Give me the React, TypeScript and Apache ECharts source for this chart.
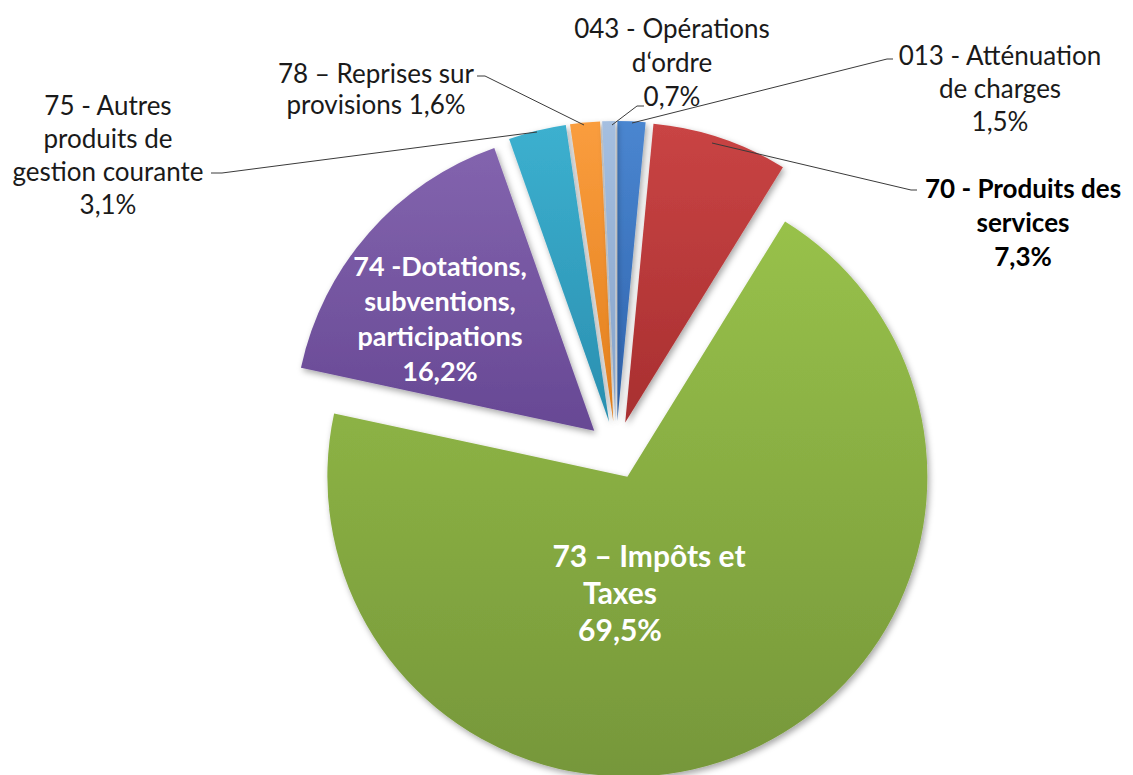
import React, { useEffect, useRef } from "react";
import * as echarts from "echarts";

// ---- data ----
const categories = [
  "013 - Atténuation\nde charges",
  "70 - Produits des\nservices",
  "73 – Impôts et\nTaxes",
  "74 -Dotations,\nsubventions,\nparticipations",
  "75 - Autres\nproduits de\ngestion courante",
  "78 – Reprises sur\nprovisions",
  "043 - Opérations\nd‘ordre",
];
const shares = [1.5, 7.3, 69.5, 16.2, 3.1, 1.6, 0.7];

// ---- styles / layout ----
const colorsTop = ["#4a86d0", "#c94444", "#98c14a", "#8364ae", "#3cb0cf", "#fa9d3e", "#a5bfe0"];
const colorsBottom = ["#2f63ad", "#a82f30", "#76973a", "#674894", "#2a8fb0", "#e27f1c", "#84a2c9"];
// label block centre, colour, weight, size, line height
const labelStyle = [
  { x: 1000, y: 88, fill: "#1a1a1a", weight: "normal", size: 26, lh: 33 },
  { x: 1023, y: 222, fill: "#000000", weight: "bold", size: 26, lh: 34 },
  { x: 620, y: 592, fill: "#ffffff", weight: "bold", size: 30, lh: 37 },
  { x: 440, y: 318, fill: "#ffffff", weight: "bold", size: 27, lh: 35 },
  { x: 108, y: 154, fill: "#1a1a1a", weight: "normal", size: 26, lh: 33 },
  { x: 376, y: 88, fill: "#1a1a1a", weight: "normal", size: 26, lh: 31 },
  { x: 672, y: 62, fill: "#1a1a1a", weight: "normal", size: 26, lh: 34 },
];
const leaderPts: (number[][] | null)[] = [
  [[632, 123], [887, 59], [893, 59]],
  [[712, 143], [911, 190], [917, 190]],
  null,
  null,
  [[537, 132], [222, 173], [211, 173]],
  [[584, 125], [485, 76], [477, 76]],
  [[612, 125], [637, 106], [644, 106]],
];

const fmt = (v: number) => v.toFixed(1).replace(".", ",") + "%";
const FONT = "Lato, 'Open Sans', sans-serif";

export default function App() {
  const ref = useRef<HTMLDivElement>(null);
  useEffect(() => {
    if (!ref.current) return;
    const chart = echarts.init(ref.current, null, { renderer: "svg" });

    const data = shares.map((v, i) => ({
      name: categories[i],
      value: v,
      selected: true,
      itemStyle: {
        color: new echarts.graphic.LinearGradient(0, 0, 0, 1, [
          { offset: 0, color: colorsTop[i] },
          { offset: 1, color: colorsBottom[i] },
        ]),
      },
    }));

    const graphics: any[] = [];
    shares.forEach((v, i) => {
      const s = labelStyle[i];
      const lines = categories[i].split("\n");
      const baseStyle = {
        fill: s.fill,
        fontFamily: FONT,
        fontSize: s.size,
        fontWeight: s.weight,
        lineHeight: s.lh,
        align: "center",
        verticalAlign: "middle",
      };
      if (i === 2) {
        // first line sits a little to the right of the rest
        const rest = lines.slice(1).concat([fmt(v)]);
        const total = rest.length + 1;
        const top = s.y - (total * s.lh) / 2;
        graphics.push({
          type: "text",
          x: s.x + 29,
          y: top + s.lh / 2,
          z: 100,
          silent: true,
          style: { ...baseStyle, text: lines[0] },
        });
        graphics.push({
          type: "text",
          x: s.x,
          y: top + s.lh + (rest.length * s.lh) / 2,
          z: 100,
          silent: true,
          style: { ...baseStyle, text: rest.join("\n") },
        });
      } else {
        const text = categories[i] + (i === 5 ? " " : "\n") + fmt(v);
        graphics.push({
          type: "text",
          x: s.x,
          y: s.y,
          z: 100,
          silent: true,
          style: { ...baseStyle, text },
        });
      }
      const pts = leaderPts[i];
      if (pts) {
        graphics.push({
          type: "polyline",
          silent: true,
          z: 100,
          shape: { points: pts },
          style: { stroke: "#3a3a3a", lineWidth: 1, fill: null },
        });
      }
    });

    chart.setOption({
      animation: false,
      backgroundColor: "#ffffff",
      series: [
        {
          type: "pie",
          center: [616, 450],
          radius: 300,
          startAngle: 90,
          clockwise: true,
          selectedMode: "multiple",
          selectedOffset: 29,
          silent: true,
          z: 2,
          itemStyle: {
            shadowBlur: 6,
            shadowColor: "rgba(0,0,0,0.35)",
            shadowOffsetX: 2,
            shadowOffsetY: 3,
          },
          label: { show: false },
          labelLine: { show: false },
          data,
        },
      ],
      graphic: { elements: graphics },
    });
    return () => chart.dispose();
  }, []);
  return (
    <div
      ref={ref}
      style={{ position: "absolute", left: 0, top: 0, width: 1133, height: 775 }}
    />
  );
}
